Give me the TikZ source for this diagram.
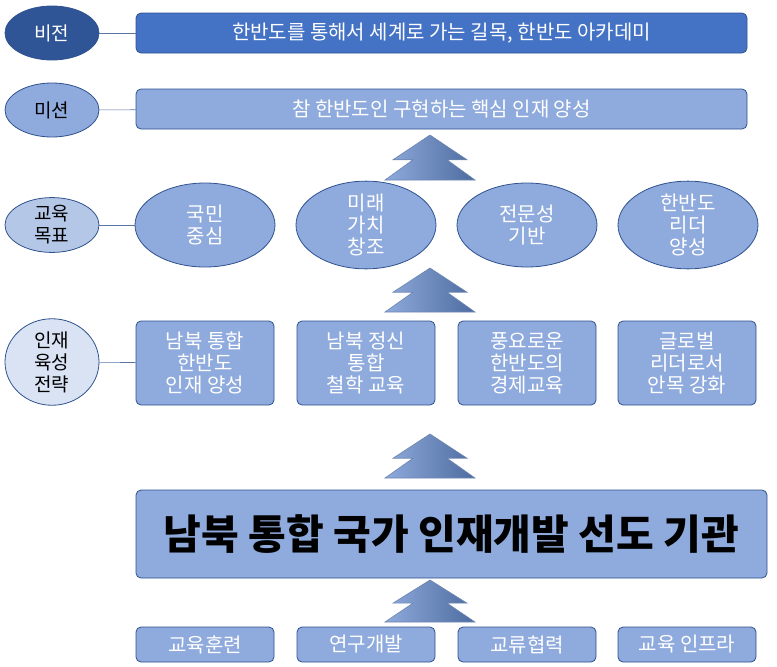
\documentclass[tikz,border=0pt]{standalone}
\usepackage{fontspec}
\setmainfont{Noto Sans CJK KR}
\usetikzlibrary{shapes.geometric}
\definecolor{dk}{HTML}{2F5597}
\definecolor{md}{HTML}{4472C4}
\definecolor{lt}{HTML}{8FAADC}
\definecolor{lt2}{HTML}{B4C7E7}
\definecolor{lt3}{HTML}{DAE3F3}
\definecolor{ln}{HTML}{2F528F}
\begin{document}
\begin{tikzpicture}[x=1pt,y=-1pt,
  lab/.style={ellipse,draw=ln,line width=0.8pt,minimum width=94pt,inner sep=0pt,align=center,font=\fontsize{19}{22}\selectfont},
  box/.style={rectangle,rounded corners=5pt,draw=ln,line width=0.8pt,fill=lt,text=white,align=center,inner sep=1pt,font=\fontsize{20}{22}\selectfont},
  goal/.style={ellipse,draw=ln,line width=0.8pt,fill=lt,text=white,minimum width=140pt,minimum height=84pt,inner sep=0pt,align=center,font=\fontsize{20}{22}\selectfont},
  conn/.style={draw=ln!80,line width=0.6pt},
  tree/.style={draw=ln!70,line width=0.6pt,left color=lt,right color=ln!85}]
\useasboundingbox (0,0) rectangle (777,667);
\node[lab,fill=dk,text=white,minimum height=54pt] (v) at (52,33) {비전};
\node[box,fill=md,minimum width=611pt,minimum height=40pt] (vb) at (441.5,33) {한반도를 통해서 세계로 가는 길목, 한반도 아카데미};
\node[lab,fill=lt,minimum height=54pt] (m) at (52,110) {미션};
\node[box,minimum width=611pt,minimum height=40pt] (mb) at (441.5,109) {참 한반도인 구현하는 핵심 인재 양성};
\node[lab,fill=lt2,minimum height=54pt] (g) at (52,225) {교육\\목표};
\node[goal] (g1) at (205,225) {국민\\중심};
\node[goal] (g2) at (366,225) {미래\\가치\\창조};
\node[goal] (g3) at (527,225) {전문성\\기반};
\node[goal] (g4) at (688,225) {한반도\\리더\\양성};
\node[lab,fill=lt3,minimum height=86pt] (s) at (52,362) {인재\\육성\\전략};
\node[box,minimum width=138pt,minimum height=84pt] (s1) at (205,363) {남북 통합\\한반도\\인재 양성};
\node[box,minimum width=138pt,minimum height=84pt] (s2) at (366,363) {남북 정신\\통합\\철학 교육};
\node[box,minimum width=138pt,minimum height=84pt] (s3) at (527,363) {풍요로운\\한반도의\\경제교육};
\node[box,minimum width=138pt,minimum height=84pt] (s4) at (687,363) {글로벌\\리더로서\\안목 강화};
\node[box,text=black,minimum width=631pt,minimum height=88pt,font=\fontsize{41}{46}\selectfont\bfseries] (big) at (451.5,534) {남북 통합 국가 인재개발 선도 기관};
\node[box,minimum width=138pt,minimum height=35pt] (b1) at (205,644.5) {교육훈련};
\node[box,minimum width=138pt,minimum height=35pt] (b2) at (366,644.5) {연구개발};
\node[box,minimum width=138pt,minimum height=35pt] (b3) at (527,644.5) {교류협력};
\node[box,minimum width=138pt,minimum height=35pt] (b4) at (687,644.5) {교육 인프라};
\draw[conn] (v) -- (vb);
\draw[conn] (m) -- (mb);
\draw[conn] (g) -- (g1);
\draw[conn] (s) -- (s1);
\foreach \t/\b in {135/180,268/312,434/478,580/622}{
  \pgfmathsetmacro\h{\b-\t}
  \path[tree] (430,\t) -- (467,{\t+0.55*\h}) -- (447,{\t+0.55*\h}) -- (475,\b) -- (385,\b) -- (413,{\t+0.55*\h}) -- (393,{\t+0.55*\h}) -- cycle;
}
\end{tikzpicture}
\end{document}
